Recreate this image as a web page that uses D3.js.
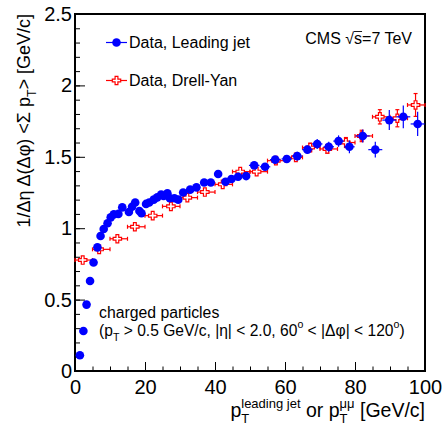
<!DOCTYPE html>
<html>
<head>
<meta charset="utf-8">
<script src="https://cdn.jsdelivr.net/npm/d3@7"></script>
<style>
  body { margin: 0; background: #fff; }
  text { font-family: "Liberation Sans", Arial, sans-serif; white-space: pre; }
</style>
</head>
<body>
<div id="chart-area"></div>
<script>
// Leading jet data (blue)
var jetPt = [1.4, 2.4, 3.3, 4.3, 5.3, 6.4, 7.3, 8.2, 9.3, 10.2, 11.1, 12.4, 13.5,
    15.4, 16.3, 17.2, 18.4, 19.0, 20.3, 21.2, 22.5, 23.5, 24.6, 25.3, 26.4, 27.1, 28.4, 29.5,
    30.9, 32.9, 34.7, 36.9, 38.8, 40.9, 43.0, 44.7, 46.6, 48.9,
    51.2, 54.3, 57.2, 60.5, 63.5, 66.4, 69.2, 72.5, 75.3, 78.4,
    82.2, 85.8, 89.8, 93.8, 97.9];
var jetMean = [0.11, 0.28, 0.465, 0.63, 0.76, 0.866, 0.945, 0.994, 1.035, 1.076, 1.097, 1.10, 1.146,
    1.113, 1.15, 1.18, 1.12, 1.105, 1.17, 1.18, 1.20, 1.216, 1.235, 1.225, 1.244, 1.21, 1.21, 1.20,
    1.25, 1.27, 1.286, 1.32, 1.32, 1.38, 1.325, 1.345, 1.36, 1.365,
    1.44, 1.43, 1.48, 1.485, 1.505, 1.55, 1.59, 1.57, 1.61, 1.57,
    1.646, 1.55, 1.757, 1.78, 1.73];
var jetErr = [0.006, 0.006, 0.006, 0.006, 0.006, 0.006, 0.006, 0.006, 0.006, 0.006, 0.006, 0.006, 0.006,
    0.006, 0.006, 0.006, 0.006, 0.006, 0.006, 0.006, 0.006, 0.006, 0.006, 0.006, 0.006, 0.006, 0.006, 0.006,
    0.01, 0.01, 0.012, 0.012, 0.015, 0.02, 0.025, 0.02, 0.025, 0.02,
    0.025, 0.02, 0.025, 0.025, 0.03, 0.03, 0.035, 0.035, 0.04, 0.045,
    0.045, 0.055, 0.07, 0.08, 0.085];
var jetPtErr = [0.5, 0.5, 0.5, 0.5, 0.5, 0.5, 0.5, 0.5, 0.5, 0.5, 0.5, 0.5, 0.5,
    0.5, 0.5, 0.5, 0.5, 0.5, 0.5, 0.5, 0.5, 0.5, 0.5, 0.5, 0.5, 0.5, 0.5, 0.5,
    1, 1, 1, 1, 1, 1, 1, 1, 1, 1,
    1.5, 1.5, 1.5, 1.5, 1.5, 1.5, 1.5, 1.5, 1.5, 1.5,
    2, 2, 2, 2, 2];

// Drell-Yan data (red), 5 GeV/c bins
var dyPt = [2.2, 6.9, 12.1, 17.1, 22.2, 27.4, 32.1, 37.1, 42.2, 47.2,
    51.9, 57.4, 63.1, 67.2, 72.1, 77.4, 81.9, 87.1, 92.1, 97.3];
var dyMean = [0.777, 0.852, 0.926, 1.01, 1.088, 1.153, 1.214, 1.253, 1.307, 1.396,
    1.396, 1.473, 1.496, 1.565, 1.555, 1.60, 1.646, 1.78, 1.77, 1.863];
var dyErr = [0.008, 0.008, 0.008, 0.01, 0.01, 0.01, 0.012, 0.012, 0.015, 0.02,
    0.02, 0.025, 0.025, 0.03, 0.03, 0.035, 0.04, 0.05, 0.06, 0.08];
var dyBinLo = [0, 5, 10, 15, 20, 25, 30, 35, 40, 45, 50, 55, 60, 65, 70, 75, 80, 85, 90, 95];
var dyBinHi = [5, 10, 15, 20, 25, 30, 35, 40, 45, 50, 55, 60, 65, 70, 75, 80, 85, 90, 95, 100];

var xTicks = [0, 20, 40, 60, 80, 100];
var yTicks = [0, 0.5, 1, 1.5, 2, 2.5];
var yTickLabels = ["0", "0.5", "1", "1.5", "2", "2.5"];

var W = 443, H = 426;
var margin = {top: 14, right: 18, bottom: 55, left: 75};
var innerW = W - margin.left - margin.right;
var innerH = H - margin.top - margin.bottom;

var svg = d3.select("#chart-area")
    .append("svg")
    .attr("width", W)
    .attr("height", H);

var g = svg.append("g")
    .attr("transform", "translate(" + margin.left + "," + margin.top + ")");

// SCALES
var x = d3.scaleLinear().domain([0, 100]).range([0, innerW]);
var y = d3.scaleLinear().domain([0, 2.5]).range([innerH, 0]);

// minor ticks
g.append("g")
    .attr("transform", "translate(0," + innerH + ")")
    .call(d3.axisBottom(x).tickValues(d3.range(0, 101, 5)).tickSize(-4.5).tickFormat(""))
    .call((a) => a.select(".domain").remove());
g.append("g")
    .call(d3.axisLeft(y).tickValues(d3.range(0, 26).map((d) => d / 10)).tickSize(-5).tickFormat(""))
    .call((a) => a.select(".domain").remove());

// major ticks + labels
var xAxis = g.append("g")
    .attr("transform", "translate(0," + innerH + ")")
    .call(d3.axisBottom(x).tickValues(xTicks).tickSize(-9).tickPadding(9).tickFormat(d3.format("d")));
xAxis.select(".domain").remove();
xAxis.selectAll("text").style("font-size", "20px").style("font-family", "Liberation Sans, Arial, sans-serif");

var yAxis = g.append("g")
    .call(d3.axisLeft(y).tickValues(yTicks).tickSize(-10).tickPadding(3)
        .tickFormat((d, i) => yTickLabels[i]));
yAxis.select(".domain").remove();
yAxis.selectAll("text").style("font-size", "20px").style("font-family", "Liberation Sans, Arial, sans-serif");

// frame
g.append("rect")
    .attr("width", innerW)
    .attr("height", innerH)
    .attr("fill", "none")
    .attr("stroke", "#000")
    .attr("stroke-width", 2);

// open cross marker path
function crossPath(s) {
    var a = s / 3;
    return "M" + (-a) + "," + (-s) + "L" + a + "," + (-s) + "L" + a + "," + (-a) + "L" + s + "," + (-a) +
        "L" + s + "," + a + "L" + a + "," + a + "L" + a + "," + s + "L" + (-a) + "," + s +
        "L" + (-a) + "," + a + "L" + (-s) + "," + a + "L" + (-s) + "," + (-a) + "L" + (-a) + "," + (-a) + "Z";
}

// Drell-Yan (red)
var dy = g.append("g");
dyPt.forEach((p, i) => {
    var cx = x(p), cy = y(dyMean[i]);
    var x0 = x(dyBinLo[i]), x1 = x(dyBinHi[i]);
    var y0 = y(dyMean[i] - dyErr[i]), y1 = y(dyMean[i] + dyErr[i]);
    dy.append("line").attr("x1", x0).attr("x2", x1).attr("y1", cy).attr("y2", cy)
        .attr("stroke", "#f00").attr("stroke-width", 1.2);
    dy.append("line").attr("x1", x0).attr("x2", x0).attr("y1", cy - 2).attr("y2", cy + 2)
        .attr("stroke", "#f00").attr("stroke-width", 1.2);
    dy.append("line").attr("x1", x1).attr("x2", x1).attr("y1", cy - 2).attr("y2", cy + 2)
        .attr("stroke", "#f00").attr("stroke-width", 1.2);
    if (cy - y1 > 4) {
        dy.append("line").attr("x1", cx).attr("x2", cx).attr("y1", y0).attr("y2", y1)
            .attr("stroke", "#f00").attr("stroke-width", 1.2);
        dy.append("line").attr("x1", cx - 2).attr("x2", cx + 2).attr("y1", y0).attr("y2", y0)
            .attr("stroke", "#f00").attr("stroke-width", 1.2);
        dy.append("line").attr("x1", cx - 2).attr("x2", cx + 2).attr("y1", y1).attr("y2", y1)
            .attr("stroke", "#f00").attr("stroke-width", 1.2);
    }
    dy.append("path").attr("d", crossPath(4.2))
        .attr("transform", "translate(" + cx + "," + cy + ")")
        .attr("fill", "#fff").attr("stroke", "#f00").attr("stroke-width", 1.2);
});

// Leading jet (blue)
var jet = g.append("g");
jetPt.forEach((p, i) => {
    var cx = x(p), cy = y(jetMean[i]);
    jet.append("line").attr("x1", x(p - jetPtErr[i])).attr("x2", x(p + jetPtErr[i]))
        .attr("y1", cy).attr("y2", cy).attr("stroke", "#00f").attr("stroke-width", 1.2);
    jet.append("line").attr("x1", cx).attr("x2", cx)
        .attr("y1", y(jetMean[i] - jetErr[i])).attr("y2", y(jetMean[i] + jetErr[i]))
        .attr("stroke", "#00f").attr("stroke-width", 1.2);
});
jet.selectAll("circle")
    .data(jetPt)
    .enter()
    .append("circle")
    .attr("cx", (d) => x(d))
    .attr("cy", (d, i) => y(jetMean[i]))
    .attr("r", 4.3)
    .attr("fill", "#00f");

// text with sub/superscripts, returns group and width
function richText(parent, parts, size, small) {
    var t = parent.append("g");
    var cx = 0;
    var ss = small || size * 0.68;
    parts.forEach((p) => {
        if (typeof p === "string") {
            var el = t.append("text").attr("x", cx).attr("y", 0).style("font-size", size + "px").text(p);
            cx += el.node().getComputedTextLength();
        } else {
            var w = 0;
            if (p.sub) {
                var s = t.append("text").attr("x", cx).attr("y", size * 0.32).style("font-size", ss + "px").text(p.sub);
                w = Math.max(w, s.node().getComputedTextLength());
            }
            if (p.sup) {
                var u = t.append("text").attr("x", cx).attr("y", -size * 0.45).style("font-size", ss + "px").text(p.sup);
                w = Math.max(w, u.node().getComputedTextLength());
            }
            cx += w;
        }
    });
    return {g: t, w: cx};
}

// legend
var leg = svg.append("g");
leg.append("line").attr("x1", 106).attr("x2", 127).attr("y1", 42.5).attr("y2", 42.5)
    .attr("stroke", "#00f").attr("stroke-width", 1.2);
leg.append("circle").attr("cx", 116.5).attr("cy", 42.5).attr("r", 4.3).attr("fill", "#00f");
leg.append("text").attr("x", 129).attr("y", 48.3).style("font-size", "16px").text("Data, Leading jet");

leg.append("line").attr("x1", 106).attr("x2", 127).attr("y1", 80.5).attr("y2", 80.5)
    .attr("stroke", "#f00").attr("stroke-width", 1.2);
leg.append("path").attr("d", crossPath(4.2)).attr("transform", "translate(116.5,80.5)")
    .attr("fill", "#fff").attr("stroke", "#f00").attr("stroke-width", 1.2);
leg.append("text").attr("x", 129).attr("y", 86.3).style("font-size", "16px").text("Data, Drell-Yan");

// CMS label
var cms = richText(svg, ["CMS \u221A", "s", "=7 TeV"], 16);
cms.g.attr("transform", "translate(" + (412 - cms.w) + ",44)");
var sNode = cms.g.selectAll("text").nodes()[1];
var sx = +d3.select(sNode).attr("x");
cms.g.append("line").attr("x1", sx).attr("x2", sx + sNode.getComputedTextLength())
    .attr("y1", -12.5).attr("y2", -12.5).attr("stroke", "#000").attr("stroke-width", 0.9);

// annotation
svg.append("text").attr("x", 99).attr("y", 317.5).style("font-size", "15.8px").text("charged particles");
var ann = richText(svg, ["(p", {sub: "T"}, " > 0.5 GeV/c, |\u03B7| < 2.0, 60", {sup: "o"},
    " < |\u0394\u03C6| < 120", {sup: "o"}, ")"], 15.6);
ann.g.attr("transform", "translate(99,335.5)");

// x axis title
var xt = richText(svg, ["p", {sub: "T", sup: "leading jet"}, " or p", {sub: "T", sup: "\u03BC\u03BC"}, " [GeV/c]"], 19.5, 13);
xt.g.attr("transform", "translate(" + (425 - xt.w) + ",417)");

// y axis title
var yt = richText(svg, ["1/\u0394\u03B7 \u0394(\u0394\u03C6) <\u03A3 p", {sub: "T"}, "> [GeV/c]"], 18);
yt.g.attr("transform", "translate(30," + (14 + yt.w) + ") rotate(-90)");
</script>
</body>
</html>
